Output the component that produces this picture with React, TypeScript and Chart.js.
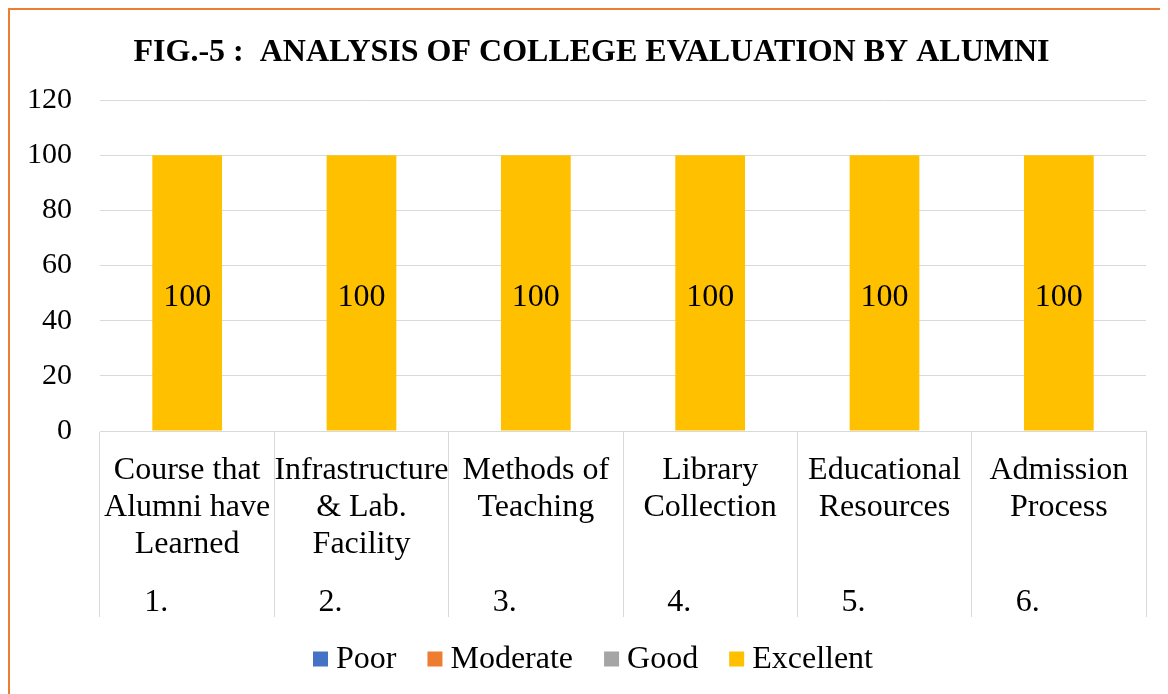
import React, { useEffect, useRef } from 'react';
import { Chart, registerables } from 'chart.js';

Chart.register(...registerables);

const titleText = 'FIG.-5 :  ANALYSIS OF COLLEGE EVALUATION BY ALUMNI';
const categories: string[][] = [
  ['Course that', 'Alumni have', 'Learned'],
  ['Infrastructure', '& Lab.', 'Facility'],
  ['Methods of', 'Teaching'],
  ['Library', 'Collection'],
  ['Educational', 'Resources'],
  ['Admission', 'Process'],
];
const serialNumbers = ['1.', '2.', '3.', '4.', '5.', '6.'];
const seriesNames = ['Poor', 'Moderate', 'Good', 'Excellent'];
const poor = [0, 0, 0, 0, 0, 0];
const moderate = [0, 0, 0, 0, 0, 0];
const good = [0, 0, 0, 0, 0, 0];
const excellent = [100, 100, 100, 100, 100, 100];
const seriesColors = ['#4472C4', '#ED7D31', '#A5A5A5', '#FFC000'];
const yMin = 0;
const yMax = 120;
const yStep = 20;

const FONT = '"Liberation Serif", "Times New Roman", serif';

export default function App() {
  const ref = useRef<HTMLCanvasElement | null>(null);
  useEffect(() => {
    const canvas = ref.current;
    if (!canvas) return;
    const seriesData = [poor, moderate, good, excellent];

    const decorPlugin = {
      id: 'decor',
      afterDraw(chart: any) {
        const ctx = chart.ctx;
        const xs = chart.scales.x;
        ctx.save();
        ctx.fillStyle = '#000';

        // title
        ctx.font = `bold 32px ${FONT}`;
        ctx.textAlign = 'center';
        ctx.textBaseline = 'alphabetic';
        ctx.fillText(titleText, chart.width / 2 + 2.5, 51);

        // category labels (multi-level)
        ctx.font = `32px ${FONT}`;
        ctx.textBaseline = 'middle';
        categories.forEach((lines, i) => {
          const cx = xs.getPixelForValue(i);
          lines.forEach((l, j) => ctx.fillText(l, cx, xs.top + 40 + j * 37));
          ctx.fillText(serialNumbers[i], cx - 31, xs.top + 172);
        });

        // data labels
        chart.data.datasets.forEach((ds: any, di: number) => {
          const meta = chart.getDatasetMeta(di);
          meta.data.forEach((el: any, i: number) => {
            const v = ds.data[i];
            if (!v) return;
            ctx.fillText(String(v), el.x, (el.y + el.base) / 2 + 5);
          });
        });

        // legend
        ctx.font = `32px ${FONT}`;
        ctx.textAlign = 'left';
        const box = 15;
        const gapText = 8;
        const gapItem = 31;
        const widths = seriesNames.map((n) => ctx.measureText(n).width);
        const total =
          widths.reduce((a: number, w: number) => a + box + gapText + w, 0) +
          gapItem * (seriesNames.length - 1);
        let lx = chart.width / 2 + 4 - total / 2;
        const ly = xs.bottom + 42;
        seriesNames.forEach((n, i) => {
          ctx.fillStyle = seriesColors[i];
          ctx.fillRect(lx, ly - box / 2, box, box);
          ctx.fillStyle = '#000';
          ctx.fillText(n, lx + box + gapText, ly + 1);
          lx += box + gapText + widths[i] + gapItem;
        });
        ctx.restore();
      },
    };

    const chart = new Chart(canvas, {
      type: 'bar',
      data: {
        labels: categories.map((c) => c.join(' ')),
        datasets: seriesNames.map((name, i) => ({
          label: name,
          data: seriesData[i],
          backgroundColor: seriesColors[i],
          borderWidth: 0,
          categoryPercentage: 0.8,
          barPercentage: 0.5,
        })),
      },
      options: {
        responsive: false,
        animation: false,
        layout: { padding: { left: 0, right: 22, top: 90, bottom: 77 } },
        scales: {
          x: {
            stacked: true,
            offset: true,
            grid: {
              offset: true,
              drawOnChartArea: false,
              drawTicks: true,
              tickLength: 186,
              color: '#d9d9d9',
              lineWidth: 1,
            },
            border: { display: true, color: '#d9d9d9', width: 1 },
            ticks: { display: false },
          },
          y: {
            stacked: true,
            min: yMin,
            max: yMax,
            ticks: {
              stepSize: yStep,
              color: '#000',
              padding: 28,
              font: { family: FONT, size: 30 },
            },
            grid: { color: '#d9d9d9', lineWidth: 1, drawTicks: false },
            border: { display: false },
            afterFit: (s: any) => {
              s.width = 90;
            },
          },
        },
        plugins: {
          title: { display: false },
          legend: { display: false },
          tooltip: { enabled: false },
        },
      },
      plugins: [decorPlugin],
    });
    return () => chart.destroy();
  }, []);

  return (
    <div style={{ width: 1160, height: 686, overflow: 'hidden' }}>
      <div
        style={{
          width: 1200,
          height: 720,
          border: '2px solid #ED7D31',
          boxSizing: 'border-box',
          background: '#fff',
        }}
      >
        <canvas ref={ref} width={1158} height={684} style={{ display: 'block' }} />
      </div>
    </div>
  );
}
